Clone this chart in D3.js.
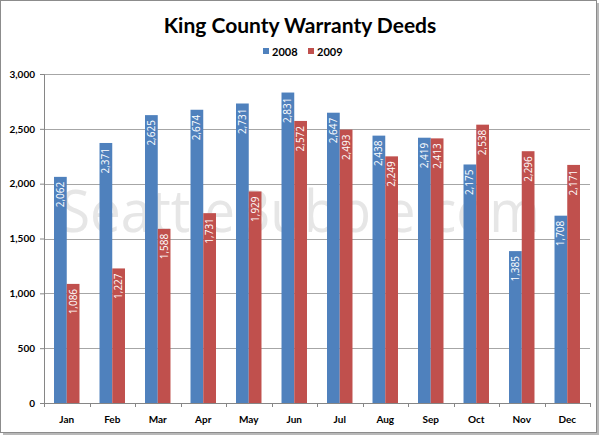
<!DOCTYPE html>
<html><head><meta charset="utf-8">
<script src="https://cdn.jsdelivr.net/npm/d3@7"></script>
<style>
body{margin:0;background:#fff;}
svg{display:block;font-family:Lato,"Open Sans",sans-serif;}
</style></head>
<body><svg id="c" width="600" height="436"></svg>
<script>
const months = ["Jan","Feb","Mar","Apr","May","Jun","Jul","Aug","Sep","Oct","Nov","Dec"];
const series = ["2008","2009"];
const values2008 = [2062,2371,2625,2674,2731,2831,2647,2438,2419,2175,1385,1708];
const values2009 = [1086,1227,1588,1731,1929,2572,2493,2249,2413,2538,2296,2171];
const yTicks = [0,500,1000,1500,2000,2500,3000];
const colors = ["#4F81BD","#C0504D"];

const svg = d3.select("#c");
// frame with shadow
svg.append("rect").attr("x",3).attr("y",3).attr("width",596).attr("height",432).attr("fill","#b8b8b8");
svg.append("rect").attr("x",0.5).attr("y",0.5).attr("width",596).attr("height",432).attr("fill","#fff").attr("stroke","#8c8c8c");

const m = {left:44,right:590,top:74,bottom:403};
const x = d3.scaleBand().domain(months).range([m.left,m.right]).padding(0);
const y = d3.scaleLinear().domain([0,3000]).range([m.bottom,m.top]);
const bw = x.bandwidth()*0.28;

// gridlines
svg.append("g").selectAll("line").data(yTicks.filter(d=>d>0)).join("line")
  .attr("x1",m.left).attr("x2",m.right).attr("y1",d=>Math.round(y(d))+0.5).attr("y2",d=>Math.round(y(d))+0.5)
  .attr("stroke","#a6a6a6").attr("stroke-width",1);

// watermark
svg.append("text").attr("x",300).attr("y",232).attr("text-anchor","middle")
  .attr("font-family","'Open Sans',sans-serif").attr("font-size",58).attr("fill","#e6e6e6")
  .attr("textLength",480).attr("lengthAdjust","spacingAndGlyphs")
  .text("SeattleBubble.com");

const data = months.map((mo,i)=>({m:mo, v:[values2008[i],values2009[i]]}));
const g = svg.append("g");
data.forEach(d=>{
  d.v.forEach((v,j)=>{
    const cx = x(d.m)+x.bandwidth()/2 + (j-1)*bw;
    g.append("rect").attr("x",cx).attr("y",y(v)).attr("width",bw).attr("height",y(0)-y(v)).attr("fill",colors[j]);
    g.append("text").attr("transform",`translate(${cx+bw/2+3.5},${y(v)+5}) rotate(-90)`)
      .attr("text-anchor","end").attr("font-size",10).attr("fill","#fff").attr("font-family","'Open Sans',sans-serif")
      .text(d3.format(",")(v));
  });
});

// y axis
const ya = svg.append("g").attr("transform",`translate(${m.left},0)`)
  .call(d3.axisLeft(y).tickValues(yTicks).tickFormat(d3.format(",")).tickSize(4).tickPadding(5));
ya.select(".domain").attr("stroke","#868686");
ya.selectAll(".tick line").attr("stroke","#868686");
ya.selectAll("text").attr("font-size",10).attr("font-weight","bold").attr("fill","#000").attr("font-family","Lato,sans-serif");

// x axis
const xa = svg.append("g").attr("transform",`translate(0,${m.bottom})`)
  .call(d3.axisBottom(x).tickSize(0).tickPadding(13));
xa.select(".domain").attr("stroke","#868686");
xa.selectAll("text").attr("font-size",10).attr("font-weight","bold").attr("fill","#000").attr("font-family","Lato,sans-serif");
svg.append("g").selectAll("line").data(d3.range(months.length+1)).join("line")
  .attr("x1",i=>Math.round(m.left + i*x.step())+0.5).attr("x2",i=>Math.round(m.left + i*x.step())+0.5)
  .attr("y1",m.bottom).attr("y2",m.bottom+4).attr("stroke","#868686");

// title
svg.append("text").attr("x",300).attr("y",33).attr("text-anchor","middle")
  .attr("font-size",21).attr("font-weight","bold").attr("fill","#000").text("King County Warranty Deeds");

// legend
const lg = svg.append("g");
const lx = [263,308];
series.forEach((s,i)=>{
  lg.append("rect").attr("x",lx[i]).attr("y",48).attr("width",6).attr("height",6).attr("fill",colors[i]);
  lg.append("text").attr("x",lx[i]+9).attr("y",55.5).attr("font-size",11).attr("font-weight","bold").text(s);
});
</script></body></html>
